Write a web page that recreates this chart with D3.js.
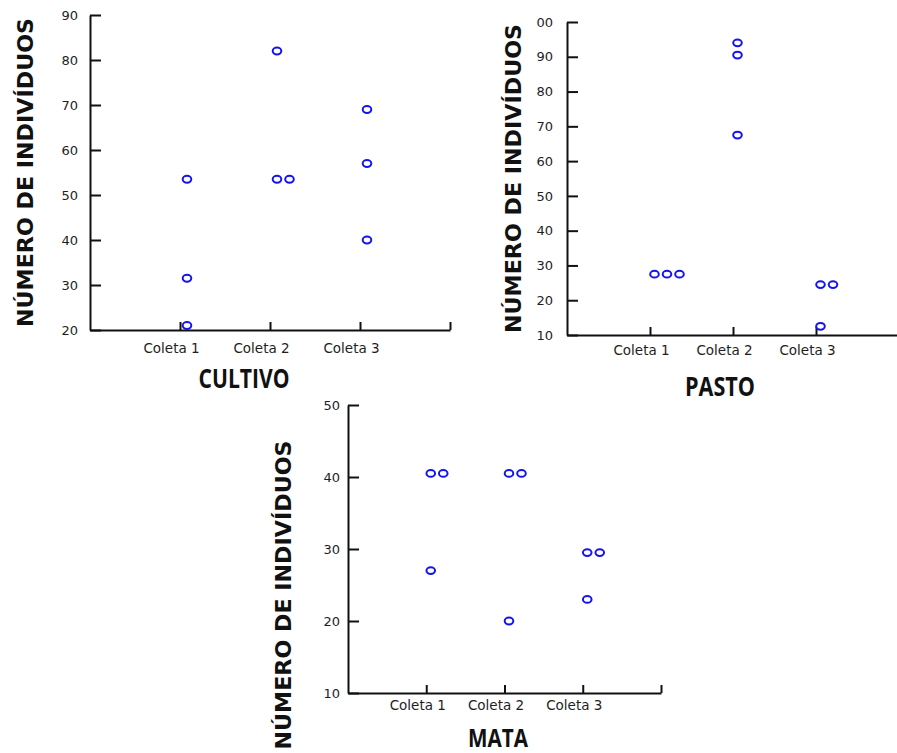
<!DOCTYPE html>
<html>
<head>
<meta charset="utf-8">
<script src="https://cdn.jsdelivr.net/npm/d3@7"></script>
<style>
  body { margin: 0; background: #fff; }
  svg { display: block; }
  .tick text { fill: #1e1e1e; font-family: "DejaVu Sans", Verdana, sans-serif; }
  .ylabel { font-family: "DejaVu Sans", Verdana, sans-serif; font-weight: bold; fill: #111; }
  .ptitle { font-family: "Open Sans", "Noto Sans", sans-serif; font-weight: bold; fill: #111; }
</style>
</head>
<body>
<script>
// ---- data ----
var categories = ["Coleta 1", "Coleta 2", "Coleta 3"];

// values per category (Coleta 1, 2, 3)
var cultivoValues = [[53.5, 31.5, 21], [82, 53.5, 53.5], [69, 57, 40]];
var pastoValues   = [[27.5, 27.5, 27.5], [94, 90.5, 67.5], [24.5, 24.5, 12.5]];
var mataValues    = [[40.5, 40.5, 27], [40.5, 40.5, 20], [29.5, 29.5, 23]];

var cultivoTicks = [20, 30, 40, 50, 60, 70, 80, 90];
var pastoTicks   = [10, 20, 30, 40, 50, 60, 70, 80, 90, 100];
var pastoTickLabels = ["10", "20", "30", "40", "50", "60", "70", "80", "90", "00"];
var mataTicks    = [10, 20, 30, 40, 50];

var yLabel = "NÚMERO DE INDIVÍDUOS";
var titles = ["CULTIVO", "PASTO", "MATA"];

// ---- layout ----
var W = 897, H = 753;
var svg = d3.select("body").append("svg").attr("width", W).attr("height", H);

var panels = [
  { values: cultivoValues, ticks: cultivoTicks, labels: null, domain: [20, 90],
    x0: 90, x1: 450, yTop: 15, yBot: 330, yPad: 12, xPad: 13, ptOff: 7,
    labX: 25, title: titles[0], titleX: 244, titleY: 388, titleW: 91 },
  { values: pastoValues, ticks: pastoTicks, labels: pastoTickLabels, domain: [10, 100],
    x0: 567, x1: 899, yTop: 22, yBot: 335, yPad: 14, xPad: 10, ptOff: 4.5,
    labX: 513, title: titles[1], titleX: 720, titleY: 396, titleW: 70 },
  { values: mataValues, ticks: mataTicks, labels: null, domain: [10, 50],
    x0: 348, x1: 661, yTop: 405, yBot: 693, yPad: 8, xPad: 7, ptOff: 4.5,
    labX: 283, labY: 595, title: titles[2], titleX: 498, titleY: 747, titleW: 60 }
];

var jitterStep = 12.5;

panels.forEach(function(p) {
  var g = svg.append("g");

  var x = d3.scaleLinear().domain([0, 4]).range([p.x0, p.x1]);
  var y = d3.scaleLinear().domain(p.domain).range([p.yBot, p.yTop]);

  // y axis, ticks pointing inward
  var yAxis = d3.axisLeft(y)
    .tickValues(p.ticks)
    .tickSizeInner(-11)
    .tickSizeOuter(0)
    .tickPadding(p.yPad)
    .tickFormat(function(d, i) { return p.labels ? p.labels[i] : d; });

  var ya = g.append("g")
    .attr("transform", "translate(" + p.x0 + ",0)")
    .call(yAxis);
  ya.selectAll("text").style("font-size", "13px");

  // x axis
  var xAxis = d3.axisBottom(x)
    .tickValues([1, 2, 3, 4])
    .tickSizeInner(-8)
    .tickSizeOuter(0)
    .tickPadding(p.xPad)
    .tickFormat(function(d) { return categories[d - 1] || ""; });

  var xa = g.append("g")
    .attr("transform", "translate(0," + p.yBot + ")")
    .call(xAxis);
  xa.selectAll("text").style("font-size", "13.5px").attr("dx", -9);

  g.selectAll(".domain, .tick line")
    .attr("stroke", "#111")
    .attr("stroke-width", 2);

  // points, ties shifted right
  var pts = [];
  p.values.forEach(function(vals, ci) {
    var seen = {};
    vals.forEach(function(v) {
      var k = seen[v] || 0;
      seen[v] = k + 1;
      pts.push({ c: ci + 1, v: v, j: k });
    });
  });

  g.selectAll(".pt")
    .data(pts)
    .enter().append("ellipse")
      .attr("class", "pt")
      .attr("cx", function(d) { return x(d.c) + p.ptOff + d.j * jitterStep; })
      .attr("cy", function(d) { return y(d.v); })
      .attr("rx", 4.3)
      .attr("ry", 3.4)
      .attr("fill", "#fff")
      .attr("stroke", "#1414f0")
      .attr("stroke-width", 2);

  // y label
  var ly = p.labY || (p.yTop + p.yBot) / 2;
  g.append("text")
    .attr("class", "ylabel")
    .attr("transform", "translate(" + (p.labX + 8) + "," + ly + ") rotate(-90)")
    .attr("text-anchor", "middle")
    .attr("textLength", 309)
    .attr("lengthAdjust", "spacingAndGlyphs")
    .style("font-size", "21px")
    .text(yLabel);

  // panel title
  g.append("text")
    .attr("class", "ptitle")
    .attr("x", p.titleX)
    .attr("y", p.titleY)
    .attr("text-anchor", "middle")
    .attr("textLength", p.titleW)
    .attr("lengthAdjust", "spacingAndGlyphs")
    .style("font-size", p.title === "MATA" ? "25px" : "27px")
    .text(p.title);
});
</script>
</body>
</html>
